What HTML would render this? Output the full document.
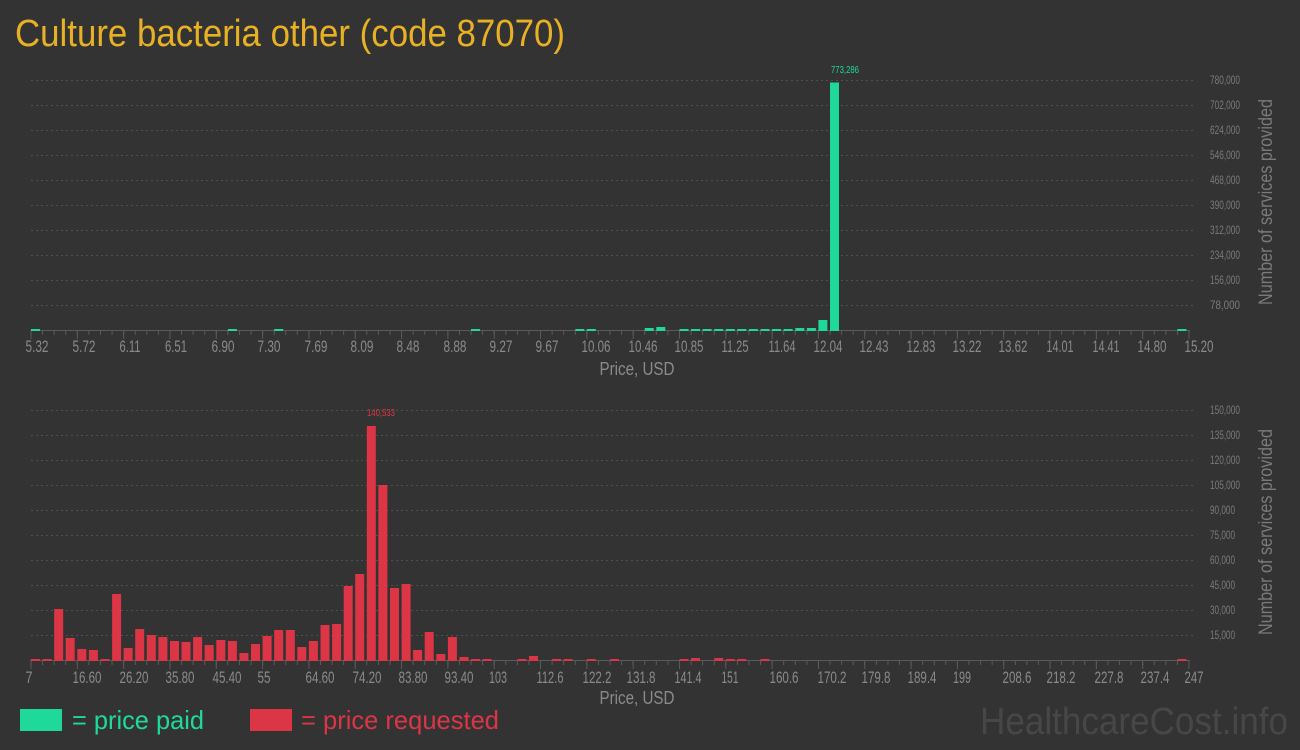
<!DOCTYPE html>
<html><head><meta charset="utf-8"><style>
html,body{margin:0;padding:0;background:#333333;}
svg{display:block;font-family:"Liberation Sans",sans-serif;}
</style></head><body>
<svg width="1300" height="750" viewBox="0 0 1300 750" xmlns="http://www.w3.org/2000/svg">
<rect width="1300" height="750" fill="#333333"/>
<text x="15" y="46" font-size="38" fill="#e8b024" textLength="550" lengthAdjust="spacingAndGlyphs">Culture bacteria other (code 87070)</text>

<!-- TOP CHART -->
<g stroke="#505050" stroke-width="1" stroke-dasharray="2 3">
<line x1="31" x2="1195" y1="305.5" y2="305.5"/><line x1="31" x2="1195" y1="280.5" y2="280.5"/><line x1="31" x2="1195" y1="255.5" y2="255.5"/><line x1="31" x2="1195" y1="230.5" y2="230.5"/><line x1="31" x2="1195" y1="205.5" y2="205.5"/><line x1="31" x2="1195" y1="180.5" y2="180.5"/><line x1="31" x2="1195" y1="155.5" y2="155.5"/><line x1="31" x2="1195" y1="130.5" y2="130.5"/><line x1="31" x2="1195" y1="105.5" y2="105.5"/><line x1="31" x2="1195" y1="80.5" y2="80.5"/>
</g>
<g fill="#7a7a7a" font-size="12">
<text x="1210" y="309" textLength="30" lengthAdjust="spacingAndGlyphs">78,000</text>
<text x="1210" y="284" textLength="30" lengthAdjust="spacingAndGlyphs">156,000</text>
<text x="1210" y="259" textLength="30" lengthAdjust="spacingAndGlyphs">234,000</text>
<text x="1210" y="234" textLength="30" lengthAdjust="spacingAndGlyphs">312,000</text>
<text x="1210" y="209" textLength="30" lengthAdjust="spacingAndGlyphs">390,000</text>
<text x="1210" y="184" textLength="30" lengthAdjust="spacingAndGlyphs">468,000</text>
<text x="1210" y="159" textLength="30" lengthAdjust="spacingAndGlyphs">546,000</text>
<text x="1210" y="134" textLength="30" lengthAdjust="spacingAndGlyphs">624,000</text>
<text x="1210" y="109" textLength="30" lengthAdjust="spacingAndGlyphs">702,000</text>
<text x="1210" y="84" textLength="30" lengthAdjust="spacingAndGlyphs">780,000</text>
</g>
<line x1="30" x2="1190" y1="330.5" y2="330.5" stroke="#5a5a5a"/>
<line x1="30.5" x2="1190" y1="333" y2="333" stroke="#5a5a5a" stroke-width="4" stroke-dasharray="1 10.58"/>
<line x1="30.5" x2="1191" y1="335" y2="335" stroke="#5a5a5a" stroke-width="8" stroke-dasharray="1 45.32"/>
<g fill="#1fd99a">
<rect x="31" y="329" width="9" height="2"/><rect x="227.9" y="329" width="9" height="2"/><rect x="274.2" y="329" width="9" height="2"/><rect x="471" y="329" width="9" height="2"/><rect x="575.3" y="329" width="9" height="2"/><rect x="586.8" y="329" width="9" height="2"/><rect x="644.7" y="328" width="9" height="3"/><rect x="656.3" y="327" width="9" height="4"/>
<rect x="679.5" y="329" width="9" height="2"/><rect x="691" y="329" width="9" height="2"/><rect x="702.6" y="329" width="9" height="2"/><rect x="714.2" y="329" width="9" height="2"/><rect x="725.8" y="329" width="9" height="2"/><rect x="737.3" y="329" width="9" height="2"/><rect x="748.9" y="329" width="9" height="2"/><rect x="760.5" y="329" width="9" height="2"/><rect x="772" y="329" width="9" height="2"/><rect x="783.6" y="329" width="9" height="2"/>
<rect x="795.3" y="328" width="9" height="3"/><rect x="806.9" y="328" width="9" height="3"/><rect x="818.4" y="320" width="9" height="11"/><rect x="830" y="82.5" width="9" height="248.5"/><rect x="1177.4" y="329" width="9" height="2"/>
</g>
<text x="845" y="73" font-size="10" fill="#1fd99a" text-anchor="middle" textLength="28" lengthAdjust="spacingAndGlyphs">773,286</text>
<g fill="#8a8a8a" font-size="17" text-anchor="middle">
<text x="37" y="352" textLength="23" lengthAdjust="spacingAndGlyphs">5.32</text>
<text x="84" y="352" textLength="23" lengthAdjust="spacingAndGlyphs">5.72</text>
<text x="130" y="352" textLength="21" lengthAdjust="spacingAndGlyphs">6.11</text>
<text x="176" y="352" textLength="22" lengthAdjust="spacingAndGlyphs">6.51</text>
<text x="223" y="352" textLength="23" lengthAdjust="spacingAndGlyphs">6.90</text>
<text x="269" y="352" textLength="23" lengthAdjust="spacingAndGlyphs">7.30</text>
<text x="316" y="352" textLength="23" lengthAdjust="spacingAndGlyphs">7.69</text>
<text x="362" y="352" textLength="23" lengthAdjust="spacingAndGlyphs">8.09</text>
<text x="408" y="352" textLength="23" lengthAdjust="spacingAndGlyphs">8.48</text>
<text x="455" y="352" textLength="23" lengthAdjust="spacingAndGlyphs">8.88</text>
<text x="501" y="352" textLength="23" lengthAdjust="spacingAndGlyphs">9.27</text>
<text x="547" y="352" textLength="23" lengthAdjust="spacingAndGlyphs">9.67</text>
<text x="596" y="352" textLength="29" lengthAdjust="spacingAndGlyphs">10.06</text>
<text x="643" y="352" textLength="29" lengthAdjust="spacingAndGlyphs">10.46</text>
<text x="689" y="352" textLength="29" lengthAdjust="spacingAndGlyphs">10.85</text>
<text x="735" y="352" textLength="27" lengthAdjust="spacingAndGlyphs">11.25</text>
<text x="782" y="352" textLength="27" lengthAdjust="spacingAndGlyphs">11.64</text>
<text x="828" y="352" textLength="29" lengthAdjust="spacingAndGlyphs">12.04</text>
<text x="874" y="352" textLength="29" lengthAdjust="spacingAndGlyphs">12.43</text>
<text x="921" y="352" textLength="29" lengthAdjust="spacingAndGlyphs">12.83</text>
<text x="967" y="352" textLength="29" lengthAdjust="spacingAndGlyphs">13.22</text>
<text x="1013" y="352" textLength="29" lengthAdjust="spacingAndGlyphs">13.62</text>
<text x="1060" y="352" textLength="27" lengthAdjust="spacingAndGlyphs">14.01</text>
<text x="1106" y="352" textLength="27" lengthAdjust="spacingAndGlyphs">14.41</text>
<text x="1152" y="352" textLength="29" lengthAdjust="spacingAndGlyphs">14.80</text>
<text x="1199" y="352" textLength="29" lengthAdjust="spacingAndGlyphs">15.20</text>
</g>
<text x="637" y="375" font-size="18" fill="#8a8a8a" text-anchor="middle" textLength="75" lengthAdjust="spacingAndGlyphs">Price, USD</text>
<text transform="translate(1272,202) rotate(-90)" font-size="19" fill="#7a7a7a" text-anchor="middle" textLength="206" lengthAdjust="spacingAndGlyphs">Number of services provided</text>

<!-- BOTTOM CHART -->
<g stroke="#505050" stroke-width="1" stroke-dasharray="2 3">
<line x1="31" x2="1195" y1="635.5" y2="635.5"/><line x1="31" x2="1195" y1="610.5" y2="610.5"/><line x1="31" x2="1195" y1="585.5" y2="585.5"/><line x1="31" x2="1195" y1="560.5" y2="560.5"/><line x1="31" x2="1195" y1="535.5" y2="535.5"/><line x1="31" x2="1195" y1="510.5" y2="510.5"/><line x1="31" x2="1195" y1="485.5" y2="485.5"/><line x1="31" x2="1195" y1="460.5" y2="460.5"/><line x1="31" x2="1195" y1="435.5" y2="435.5"/><line x1="31" x2="1195" y1="410.5" y2="410.5"/>
</g>
<g fill="#7a7a7a" font-size="12">
<text x="1210" y="639" textLength="25" lengthAdjust="spacingAndGlyphs">15,000</text>
<text x="1210" y="614" textLength="25" lengthAdjust="spacingAndGlyphs">30,000</text>
<text x="1210" y="589" textLength="25" lengthAdjust="spacingAndGlyphs">45,000</text>
<text x="1210" y="564" textLength="25" lengthAdjust="spacingAndGlyphs">60,000</text>
<text x="1210" y="539" textLength="25" lengthAdjust="spacingAndGlyphs">75,000</text>
<text x="1210" y="514" textLength="25" lengthAdjust="spacingAndGlyphs">90,000</text>
<text x="1210" y="489" textLength="30" lengthAdjust="spacingAndGlyphs">105,000</text>
<text x="1210" y="464" textLength="30" lengthAdjust="spacingAndGlyphs">120,000</text>
<text x="1210" y="439" textLength="30" lengthAdjust="spacingAndGlyphs">135,000</text>
<text x="1210" y="414" textLength="30" lengthAdjust="spacingAndGlyphs">150,000</text>
</g>
<line x1="30" x2="1190" y1="660.5" y2="660.5" stroke="#5a5a5a"/>
<line x1="30.5" x2="1190" y1="663" y2="663" stroke="#5a5a5a" stroke-width="4" stroke-dasharray="1 10.58"/>
<line x1="30.5" x2="1191" y1="665" y2="665" stroke="#5a5a5a" stroke-width="8" stroke-dasharray="1 45.32"/>
<g fill="#dc3545">
<rect x="31" y="659" width="9" height="2"/><rect x="42.6" y="659" width="9" height="2"/>
<rect x="54.2" y="609" width="9" height="52"/><rect x="65.7" y="638" width="9" height="23"/><rect x="77.3" y="649" width="9" height="12"/><rect x="88.9" y="650" width="9" height="11"/><rect x="100.5" y="659" width="9" height="2"/><rect x="112.1" y="594" width="9" height="67"/><rect x="123.6" y="648" width="9" height="13"/><rect x="135.2" y="629" width="9" height="32"/><rect x="146.8" y="635" width="9" height="26"/><rect x="158.4" y="637" width="9" height="24"/><rect x="170" y="641" width="9" height="20"/><rect x="181.5" y="642" width="9" height="19"/><rect x="193.1" y="637" width="9" height="24"/><rect x="204.7" y="645" width="9" height="16"/><rect x="216.3" y="640" width="9" height="21"/><rect x="227.9" y="641" width="9" height="20"/><rect x="239.4" y="653" width="9" height="8"/><rect x="251" y="644" width="9" height="17"/><rect x="262.6" y="636" width="9" height="25"/><rect x="274.2" y="630" width="9" height="31"/><rect x="285.8" y="630" width="9" height="31"/><rect x="297.3" y="647" width="9" height="14"/><rect x="308.9" y="641" width="9" height="20"/><rect x="320.5" y="625" width="9" height="36"/><rect x="332.1" y="624" width="9" height="37"/><rect x="343.7" y="586" width="9" height="75"/><rect x="355.2" y="574" width="9" height="87"/><rect x="366.8" y="426" width="9" height="235"/><rect x="378.4" y="485" width="9" height="176"/><rect x="390" y="588" width="9" height="73"/><rect x="401.6" y="584" width="9" height="77"/><rect x="413.1" y="650" width="9" height="11"/><rect x="424.7" y="632" width="9" height="29"/><rect x="436.3" y="654" width="9" height="7"/><rect x="447.9" y="637" width="9" height="24"/><rect x="459.5" y="657" width="9" height="4"/><rect x="471" y="659" width="9" height="2"/><rect x="482.6" y="659" width="9" height="2"/><rect x="517.4" y="659" width="9" height="2"/><rect x="529" y="656" width="9" height="5"/><rect x="552.1" y="659" width="9" height="2"/><rect x="563.7" y="659" width="9" height="2"/><rect x="586.8" y="659" width="9" height="2"/><rect x="610" y="659" width="9" height="2"/><rect x="679.5" y="659" width="9" height="2"/><rect x="691" y="658" width="9" height="3"/><rect x="714.2" y="658" width="9" height="3"/><rect x="725.8" y="659" width="9" height="2"/><rect x="737.3" y="659" width="9" height="2"/><rect x="760.5" y="659" width="9" height="2"/><rect x="1177.4" y="659" width="9" height="2"/>
</g>
<text x="381" y="416" font-size="10" fill="#dc3545" text-anchor="middle" textLength="28" lengthAdjust="spacingAndGlyphs">140,533</text>
<g fill="#8a8a8a" font-size="17" text-anchor="middle">
<text x="29" y="683" textLength="7" lengthAdjust="spacingAndGlyphs">7</text>
<text x="87" y="683" textLength="29" lengthAdjust="spacingAndGlyphs">16.60</text>
<text x="134" y="683" textLength="29" lengthAdjust="spacingAndGlyphs">26.20</text>
<text x="180" y="683" textLength="29" lengthAdjust="spacingAndGlyphs">35.80</text>
<text x="227" y="683" textLength="29" lengthAdjust="spacingAndGlyphs">45.40</text>
<text x="264" y="683" textLength="13" lengthAdjust="spacingAndGlyphs">55</text>
<text x="320" y="683" textLength="29" lengthAdjust="spacingAndGlyphs">64.60</text>
<text x="367" y="683" textLength="29" lengthAdjust="spacingAndGlyphs">74.20</text>
<text x="413" y="683" textLength="29" lengthAdjust="spacingAndGlyphs">83.80</text>
<text x="459" y="683" textLength="29" lengthAdjust="spacingAndGlyphs">93.40</text>
<text x="498" y="683" textLength="18" lengthAdjust="spacingAndGlyphs">103</text>
<text x="550" y="683" textLength="27" lengthAdjust="spacingAndGlyphs">112.6</text>
<text x="597" y="683" textLength="29" lengthAdjust="spacingAndGlyphs">122.2</text>
<text x="641" y="683" textLength="29" lengthAdjust="spacingAndGlyphs">131.8</text>
<text x="688" y="683" textLength="27" lengthAdjust="spacingAndGlyphs">141.4</text>
<text x="730" y="683" textLength="17" lengthAdjust="spacingAndGlyphs">151</text>
<text x="784" y="683" textLength="29" lengthAdjust="spacingAndGlyphs">160.6</text>
<text x="832" y="683" textLength="29" lengthAdjust="spacingAndGlyphs">170.2</text>
<text x="876" y="683" textLength="29" lengthAdjust="spacingAndGlyphs">179.8</text>
<text x="922" y="683" textLength="29" lengthAdjust="spacingAndGlyphs">189.4</text>
<text x="962" y="683" textLength="18" lengthAdjust="spacingAndGlyphs">199</text>
<text x="1017" y="683" textLength="29" lengthAdjust="spacingAndGlyphs">208.6</text>
<text x="1061" y="683" textLength="29" lengthAdjust="spacingAndGlyphs">218.2</text>
<text x="1109" y="683" textLength="29" lengthAdjust="spacingAndGlyphs">227.8</text>
<text x="1155" y="683" textLength="29" lengthAdjust="spacingAndGlyphs">237.4</text>
<text x="1194" y="683" textLength="19" lengthAdjust="spacingAndGlyphs">247</text>
</g>
<text x="637" y="704" font-size="18" fill="#8a8a8a" text-anchor="middle" textLength="75" lengthAdjust="spacingAndGlyphs">Price, USD</text>
<text transform="translate(1272,532) rotate(-90)" font-size="19" fill="#7a7a7a" text-anchor="middle" textLength="206" lengthAdjust="spacingAndGlyphs">Number of services provided</text>

<!-- LEGEND -->
<rect x="20" y="709" width="42" height="22" fill="#1fd99a"/>
<text x="72" y="729" font-size="26" fill="#1fd99a" textLength="132" lengthAdjust="spacingAndGlyphs">= price paid</text>
<rect x="250" y="709" width="42" height="22" fill="#dc3545"/>
<text x="301" y="729" font-size="26" fill="#dc3545" textLength="198" lengthAdjust="spacingAndGlyphs">= price requested</text>
<text x="980" y="734" font-size="38" fill="#474747" textLength="308" lengthAdjust="spacingAndGlyphs">HealthcareCost.info</text>
</svg>
</body></html>
